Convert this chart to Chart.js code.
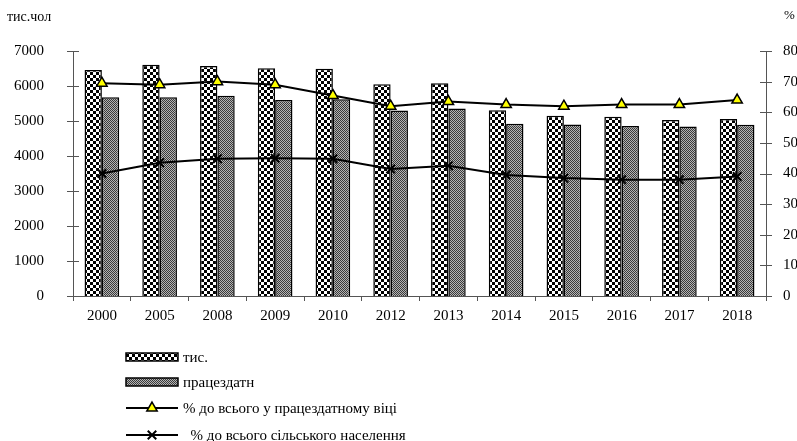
<!DOCTYPE html>
<html>
<head>
<meta charset="utf-8">
<script src="https://cdn.jsdelivr.net/npm/chart.js@4"></script>
<style>
  html, body { margin: 0; padding: 0; background: #fff; }
  #wrap { width: 797px; height: 441px; }
</style>
</head>
<body>
<div id="wrap"><canvas id="chart" width="797" height="441"></canvas></div>
<script>
// дані
const years = ['2000', '2005', '2008', '2009', '2010', '2012', '2013', '2014', '2015', '2016', '2017', '2018'];
const totalThous = [6460, 6610, 6570, 6510, 6490, 6050, 6080, 5310, 5150, 5120, 5030, 5060];
const ableBodied = [5680, 5680, 5720, 5600, 5620, 5300, 5360, 4920, 4900, 4860, 4840, 4890];
const pctWorkingAge = [69.5, 69, 70, 69, 65.5, 62, 63.5, 62.5, 62, 62.5, 62.5, 64];
const pctRural = [40, 43.5, 44.8, 45, 44.8, 41.5, 42.5, 39.5, 38.5, 38, 38, 39];
const leftTicks = [0, 1000, 2000, 3000, 4000, 5000, 6000, 7000];
const rightTicks = [0, 10, 20, 30, 40, 50, 60, 70, 80];

const legendLabels = ['тис.', 'працездатн', '% до всього у працездатному віці', '  % до всього сільського населення'];

const FONT = '"Liberation Serif", "Times New Roman", serif';

function makePattern(cell, c1, c2) {
    const p = document.createElement('canvas');
    p.width = cell * 2; p.height = cell * 2;
    const g = p.getContext('2d');
    g.fillStyle = c1; g.fillRect(0, 0, cell * 2, cell * 2);
    g.fillStyle = c2;
    g.fillRect(0, 0, cell, cell);
    g.fillRect(cell, cell, cell, cell);
    return g.createPattern(p, 'repeat');
}

const ctx = document.getElementById('chart').getContext('2d');
const patTotal = makePattern(3, '#ffffff', '#000000');
const patAble = makePattern(1, '#b4b4b4', '#3a3a3a');

// хрестоподібні поділки на осях Y та підписи одиниць
const axisDecor = {
    id: 'axisDecor',
    afterDraw(chart) {
        const c = chart.ctx;
        const yl = chart.scales.y, yr = chart.scales.y1;
        c.save();
        c.strokeStyle = '#555';
        c.lineWidth = 1;
        c.beginPath();
        leftTicks.forEach(v => {
            const y = Math.round(yl.getPixelForValue(v)) + 0.5;
            c.moveTo(yl.right - 6, y); c.lineTo(yl.right + 6, y);
        });
        rightTicks.forEach(v => {
            const y = Math.round(yr.getPixelForValue(v)) + 0.5;
            c.moveTo(yr.left - 6, y); c.lineTo(yr.left + 6, y);
        });
        c.stroke();
        c.fillStyle = '#000';
        c.font = '14px ' + FONT;
        c.textBaseline = 'middle';
        c.textAlign = 'left';
        c.fillText('тис.чол', 7, 17);
        c.font = '13px ' + FONT;
        c.fillText('%', 784, 16);
        c.restore();
    }
};

// легенда у стовпчик під графіком
const columnLegend = {
    id: 'columnLegend',
    afterDraw(chart) {
        const c = chart.ctx;
        const ds = chart.data.datasets;
        const rows = [357, 382, 408, 435];
        const x0 = 126, x1 = 178;
        c.save();
        c.font = '15px ' + FONT;
        c.textBaseline = 'middle';
        c.textAlign = 'left';
        rows.forEach((y, i) => {
            const d = ds[i];
            if (d.type === 'bar') {
                c.fillStyle = d.backgroundColor;
                c.fillRect(x0, y - 4, x1 - x0, 8);
                c.strokeStyle = '#000';
                c.lineWidth = 1.5;
                c.strokeRect(x0, y - 4, x1 - x0, 8);
            } else {
                c.strokeStyle = '#000';
                c.lineWidth = 2;
                c.beginPath(); c.moveTo(x0, y); c.lineTo(x1, y); c.stroke();
                c.fillStyle = d.pointBackgroundColor;
                c.strokeStyle = '#000';
                c.lineWidth = d.pointBorderWidth;
                Chart.helpers.drawPoint(c, { pointStyle: d.pointStyle, radius: d.pointRadius, borderWidth: d.pointBorderWidth, rotation: 0 }, (x0 + x1) / 2, y);
            }
            c.fillStyle = '#000';
            c.fillText(legendLabels[i], x1 + 5, y + 1);
        });
        c.restore();
    }
};

new Chart(ctx, {
    data: {
        labels: years,
        datasets: [
            { type: 'bar', label: legendLabels[0], data: totalThous, yAxisID: 'y', order: 2,
              backgroundColor: patTotal, borderColor: '#000', borderWidth: 1.5,
              categoryPercentage: 0.6, barPercentage: 1.0 },
            { type: 'bar', label: legendLabels[1], data: ableBodied, yAxisID: 'y', order: 2,
              backgroundColor: patAble, borderColor: '#000', borderWidth: 1.5,
              categoryPercentage: 0.6, barPercentage: 1.0 },
            { type: 'line', label: legendLabels[2], data: pctWorkingAge, yAxisID: 'y1', order: 1,
              borderColor: '#000', borderWidth: 2, tension: 0,
              pointStyle: 'triangle', pointRadius: 6, pointBackgroundColor: '#ffff00',
              pointBorderColor: '#000', pointBorderWidth: 1.5 },
            { type: 'line', label: legendLabels[3], data: pctRural, yAxisID: 'y1', order: 1,
              borderColor: '#000', borderWidth: 2, tension: 0,
              pointStyle: 'crossRot', pointRadius: 6, pointBackgroundColor: '#000',
              pointBorderColor: '#000', pointBorderWidth: 2 }
        ]
    },
    options: {
        responsive: false,
        animation: false,
        layout: { padding: { top: 51, bottom: 115, left: 0, right: 0 } },
        plugins: { legend: { display: false }, tooltip: { enabled: false } },
        scales: {
            x: {
                grid: { display: true, drawOnChartArea: false, drawTicks: true, tickLength: 5, color: '#555', offset: true },
                border: { color: '#555', width: 1 },
                ticks: { color: '#000', font: { family: FONT, size: 15 }, padding: 6, maxRotation: 0 },
                afterFit(s) { s.height = 30; }
            },
            y: {
                position: 'left', min: 0, max: 7000,
                afterBuildTicks(s) { s.ticks = leftTicks.map(v => ({ value: v })); },
                grid: { display: false, drawTicks: false },
                border: { color: '#555', width: 1 },
                ticks: { color: '#000', font: { family: FONT, size: 15 }, padding: 29, callback: v => String(v) },
                afterFit(s) { s.width = 73; }
            },
            y1: {
                position: 'right', min: 0, max: 80,
                afterBuildTicks(s) { s.ticks = rightTicks.map(v => ({ value: v })); },
                grid: { display: false, drawTicks: false },
                border: { color: '#555', width: 1 },
                ticks: { color: '#000', font: { family: FONT, size: 15 }, padding: 17, callback: v => String(v) },
                afterFit(s) { s.width = 31; }
            }
        }
    },
    plugins: [axisDecor, columnLegend]
});
</script>
</body>
</html>
